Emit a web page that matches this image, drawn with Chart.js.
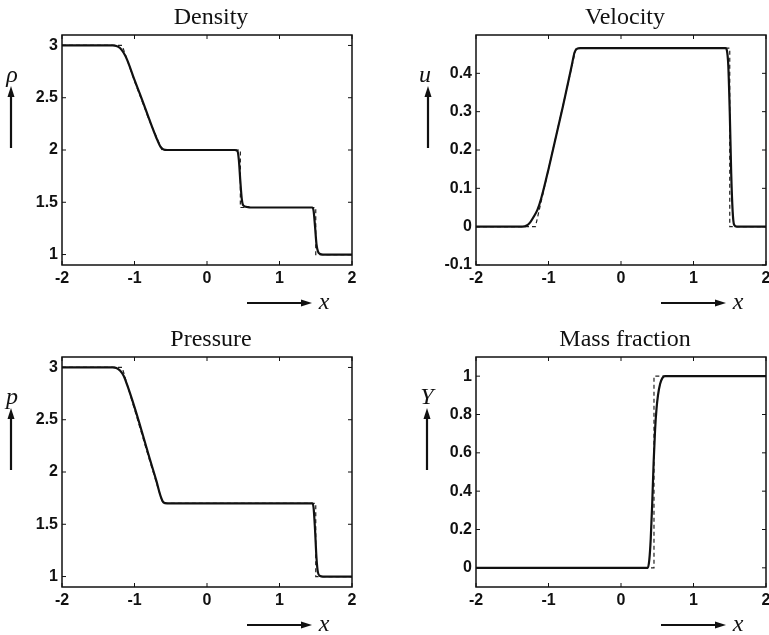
<!DOCTYPE html>
<html>
<head>
<meta charset="utf-8">
<script src="https://cdn.jsdelivr.net/npm/chart.js@4"></script>
<style>
  html, body { margin: 0; padding: 0; background: #fff; overflow: hidden; }
  body { width: 769px; height: 635px; position: relative; }
  canvas { position: absolute; }
</style>
</head>
<body>
<canvas id="density" width="400" height="320" style="left:0;top:0"></canvas>
<canvas id="velocity" width="400" height="320" style="left:414px;top:0"></canvas>
<canvas id="pressure" width="400" height="320" style="left:0;top:322px"></canvas>
<canvas id="massfrac" width="400" height="320" style="left:414px;top:322px"></canvas>
<script>
// tick labels
const xTicks = [-2, -1, 0, 1, 2];
const densityTicks = [1, 1.5, 2, 2.5, 3];
const velocityTicks = [-0.1, 0, 0.1, 0.2, 0.3, 0.4];
const pressureTicks = [1, 1.5, 2, 2.5, 3];
const massTicks = [0, 0.2, 0.4, 0.6, 0.8, 1];

// density: numerical (solid) and exact (dashed)
const densityNumX = [-2, -1.30, -1.25, -1.20, -1.15, -1.10, -1.0, -0.9, -0.8, -0.7, -0.64, -0.60, -0.55, 0.38, 0.42, 0.44, 0.46, 0.48, 0.50, 0.55, 0.60, 1.45, 1.47, 1.49, 1.51, 1.53, 1.56, 1.60, 2];
const densityNum  = [3, 3, 2.995, 2.975, 2.93, 2.86, 2.67, 2.49, 2.30, 2.12, 2.03, 2.005, 2.0, 2.0, 1.99, 1.90, 1.70, 1.53, 1.47, 1.455, 1.45, 1.45, 1.42, 1.27, 1.10, 1.03, 1.005, 1.0, 1.0];
const densityExX  = [-2, -1.17, -1.0, -0.8, -0.62, 0.46, 0.46, 1.5, 1.5, 2];
const densityEx   = [3, 3, 2.66, 2.29, 2.0, 2.0, 1.45, 1.45, 1.0, 1.0];

// velocity
const velocityNumX = [-2, -1.36, -1.30, -1.25, -1.20, -1.15, -1.10, -1.0, -0.8, -0.68, -0.64, -0.60, -0.56, 1.44, 1.46, 1.48, 1.50, 1.52, 1.54, 1.56, 1.60, 2];
const velocityNum  = [0, 0, 0.003, 0.012, 0.027, 0.045, 0.074, 0.15, 0.315, 0.42, 0.455, 0.465, 0.466, 0.466, 0.46, 0.42, 0.30, 0.14, 0.04, 0.005, 0, 0];
const velocityExX  = [-2, -1.18, -0.62, 1.5, 1.5, 2];
const velocityEx   = [0, 0, 0.466, 0.466, 0, 0];

// pressure
const pressureNumX = [-2, -1.30, -1.25, -1.20, -1.15, -1.10, -1.0, -0.9, -0.8, -0.7, -0.64, -0.60, -0.55, 1.45, 1.47, 1.49, 1.51, 1.53, 1.56, 1.60, 2];
const pressureNum  = [3, 3, 2.995, 2.97, 2.92, 2.83, 2.62, 2.39, 2.15, 1.92, 1.77, 1.71, 1.70, 1.70, 1.66, 1.45, 1.18, 1.04, 1.005, 1.0, 1.0];
const pressureExX  = [-2, -1.17, -1.0, -0.8, -0.61, 1.5, 1.5, 2];
const pressureEx   = [3, 3, 2.60, 2.13, 1.70, 1.70, 1.0, 1.0];

// mass fraction
const massNumX = [-2, 0.37, 0.39, 0.41, 0.43, 0.45, 0.47, 0.49, 0.51, 0.54, 0.57, 0.61, 2];
const massNum  = [0, 0, 0.04, 0.15, 0.33, 0.55, 0.72, 0.83, 0.90, 0.96, 0.99, 1.0, 1.0];
const massExX  = [-2, 0.455, 0.455, 2];
const massEx   = [0, 0, 1, 1];

const ink = '#111';
const tickFont = { family: '"Liberation Sans", Arial, sans-serif', size: 16, weight: 'bold' };

function series(xs, ys) {
  return xs.map((v, i) => ({ x: v, y: ys[i] }));
}

function arrow(ctx, x1, y1, x2, y2) {
  const ang = Math.atan2(y2 - y1, x2 - x1);
  const len = 11, half = 3.5;
  ctx.beginPath();
  ctx.moveTo(x1, y1);
  ctx.lineTo(x2 - Math.cos(ang) * len, y2 - Math.sin(ang) * len);
  ctx.lineWidth = 2.2;
  ctx.stroke();
  ctx.beginPath();
  ctx.moveTo(x2, y2);
  ctx.lineTo(x2 - Math.cos(ang) * len - Math.sin(ang) * half, y2 - Math.sin(ang) * len + Math.cos(ang) * half);
  ctx.lineTo(x2 - Math.cos(ang) * len + Math.sin(ang) * half, y2 - Math.sin(ang) * len - Math.cos(ang) * half);
  ctx.closePath();
  ctx.fill();
}

// box, inward ticks, title and arrow labels
const framePlugin = {
  id: 'frame',
  afterDraw(chart, args, opts) {
    const { ctx, chartArea: a, scales: { x, y } } = chart;
    ctx.save();
    ctx.strokeStyle = ink;
    ctx.fillStyle = ink;
    ctx.lineWidth = 1.5;
    ctx.strokeRect(a.left, a.top, a.right - a.left, a.bottom - a.top);

    ctx.lineWidth = 1;
    const t = 4;
    ctx.beginPath();
    x.ticks.forEach(tk => {
      const px = x.getPixelForValue(tk.value);
      ctx.moveTo(px, a.bottom); ctx.lineTo(px, a.bottom - t);
      ctx.moveTo(px, a.top); ctx.lineTo(px, a.top + t);
    });
    y.ticks.forEach(tk => {
      const py = y.getPixelForValue(tk.value);
      ctx.moveTo(a.left, py); ctx.lineTo(a.left + t, py);
      ctx.moveTo(a.right, py); ctx.lineTo(a.right - t, py);
    });
    ctx.stroke();

    ctx.textAlign = 'center';
    ctx.textBaseline = 'alphabetic';
    ctx.font = '24px "Liberation Serif", "Times New Roman", serif';
    ctx.fillText(opts.title, (a.left + a.right) / 2 + 4, a.top - 11);

    ctx.font = 'italic 24px "Liberation Serif", "Times New Roman", serif';
    ctx.fillText(opts.yLabel, opts.labelX, a.top + 47);
    arrow(ctx, opts.arrowX, a.top + 113, opts.arrowX, a.top + 51);

    arrow(ctx, a.left + 185, a.bottom + 38, a.left + 250, a.bottom + 38);
    ctx.fillText('x', a.left + 262, a.bottom + 44);
    ctx.restore();
  }
};

function makeChart(id, p) {
  return new Chart(document.getElementById(id), {
    type: 'line',
    data: {
      datasets: [
        { data: series(p.numX, p.num), borderColor: ink, borderWidth: 2.2, pointRadius: 0, cubicInterpolationMode: 'monotone' },
        { data: series(p.exX, p.ex), borderColor: '#222', borderWidth: 1.2, borderDash: [4, 3], pointRadius: 0, tension: 0 }
      ]
    },
    options: {
      responsive: false,
      animation: false,
      devicePixelRatio: 1,
      layout: { padding: { left: 0, right: 48, top: 35, bottom: 0 } },
      plugins: {
        legend: { display: false },
        tooltip: { enabled: false },
        frame: { title: p.title, yLabel: p.yLabel, labelX: p.labelX, arrowX: p.arrowX }
      },
      scales: {
        x: {
          type: 'linear', min: -2, max: 2,
          afterBuildTicks: s => { s.ticks = xTicks.map(v => ({ value: v })); },
          afterFit: s => { s.height = 55; },
          grid: { display: false, drawTicks: false },
          border: { display: false },
          ticks: { color: ink, font: tickFont, padding: 4, maxRotation: 0, autoSkip: false, callback: v => String(v) }
        },
        y: {
          type: 'linear', min: p.yMin, max: p.yMax,
          afterBuildTicks: s => { s.ticks = p.yTicks.map(v => ({ value: v })); },
          afterFit: s => { s.width = 62; },
          grid: { display: false, drawTicks: false },
          border: { display: false },
          ticks: { color: ink, font: tickFont, padding: 4, autoSkip: false, callback: v => String(v) }
        }
      }
    },
    plugins: [framePlugin]
  });
}

makeChart('density', {
  title: 'Density', yLabel: 'ρ', labelX: 12, arrowX: 11,
  yMin: 0.9, yMax: 3.1, yTicks: densityTicks,
  numX: densityNumX, num: densityNum, exX: densityExX, ex: densityEx
});
makeChart('velocity', {
  title: 'Velocity', yLabel: 'u', labelX: 11, arrowX: 14,
  yMin: -0.1, yMax: 0.5, yTicks: velocityTicks,
  numX: velocityNumX, num: velocityNum, exX: velocityExX, ex: velocityEx
});
makeChart('pressure', {
  title: 'Pressure', yLabel: 'p', labelX: 12, arrowX: 11,
  yMin: 0.9, yMax: 3.1, yTicks: pressureTicks,
  numX: pressureNumX, num: pressureNum, exX: pressureExX, ex: pressureEx
});
makeChart('massfrac', {
  title: 'Mass fraction', yLabel: 'Y', labelX: 13, arrowX: 13,
  yMin: -0.1, yMax: 1.1, yTicks: massTicks,
  numX: massNumX, num: massNum, exX: massExX, ex: massEx
});
</script>
</body>
</html>
